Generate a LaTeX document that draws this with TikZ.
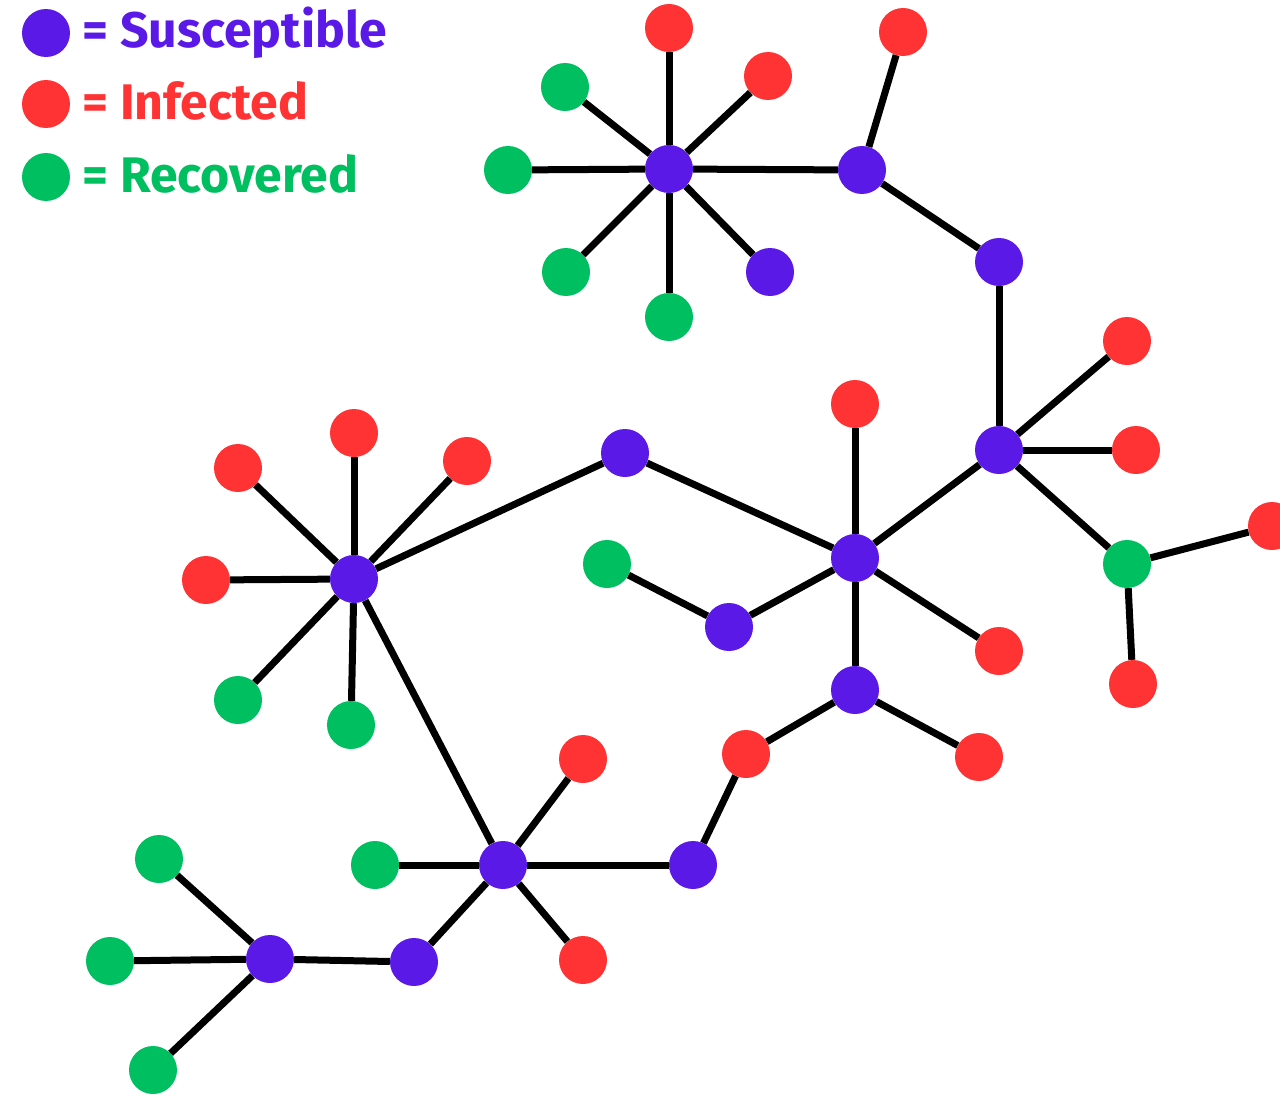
\documentclass[tikz,border=0pt]{standalone}
\usepackage{fontspec}
\setmainfont{Fira Sans}
\definecolor{sus}{HTML}{5B19E8}
\definecolor{inf}{HTML}{FF3333}
\definecolor{rec}{HTML}{00BF60}
\begin{document}
\begin{tikzpicture}[x=1pt,y=-1pt,
  dot/.style={circle,minimum size=48pt,inner sep=0pt,draw=none},
  S/.style={dot,fill=sus},
  I/.style={dot,fill=inf},
  R/.style={dot,fill=rec},
  link/.style={line width=7pt,black},
  lbl/.style={anchor=base west,inner sep=0pt,font=\fontsize{50}{50}\selectfont\bfseries}]
\useasboundingbox (0,0) rectangle (1280,1097);
% legend
\node[S] (ls) at (46,33) {};
\node[I] (li) at (46,104) {};
\node[R] (lr) at (46,177) {};
\node[lbl,text=sus] (ts) at (82,48) {= Susceptible};
\node[lbl,text=inf] (ti) at (82,120) {= Infected};
\node[lbl,text=rec] (tr) at (82,192) {= Recovered};
% top hub
\node[S] (A) at (669,169) {};
\node[I] (a1) at (669,28) {};
\node[I] (a2) at (768,76) {};
\node[R] (a3) at (565,87) {};
\node[R] (a4) at (508,170) {};
\node[R] (a5) at (566,272) {};
\node[R] (a6) at (669,317) {};
\node[S] (a7) at (770,272) {};
\node[S] (B) at (862,170) {};
\node[I] (b1) at (903,32) {};
\node[S] (C) at (999,262) {};
\node[S] (D) at (999,450) {};
\node[I] (d1) at (1127,341) {};
\node[I] (d2) at (1136,450) {};
\node[R] (E) at (1127,564) {};
\node[I] (e1) at (1272,526) {};
\node[I] (e2) at (1133,684) {};
\node[S] (F) at (855,558) {};
\node[I] (f1) at (855,404) {};
\node[S] (f2) at (625,453) {};
\node[S] (f3) at (729,627) {};
\node[I] (f4) at (999,651) {};
\node[S] (G) at (855,690) {};
\node[R] (g3) at (607,564) {};
\node[I] (g1) at (979,757) {};
\node[I] (g2) at (746,754) {};
\node[S] (P) at (693,865) {};
\node[S] (H) at (354,579) {};
\node[I] (h1) at (354,433) {};
\node[I] (h2) at (238,468) {};
\node[I] (h3) at (467,461) {};
\node[I] (h4) at (206,580) {};
\node[R] (h5) at (238,700) {};
\node[R] (h6) at (351,725) {};
\node[S] (J) at (503,865) {};
\node[I] (j1) at (583,759) {};
\node[R] (j2) at (375,865) {};
\node[I] (j3) at (583,960) {};
\node[S] (K) at (414,962) {};
\node[S] (L) at (270,959) {};
\node[R] (l1) at (159,859) {};
\node[R] (l2) at (110,961) {};
\node[R] (l3) at (153,1070) {};
% edges
\foreach \u/\v in {A/a1,A/a2,A/a3,A/a4,A/a5,A/a6,A/a7,A/B,B/b1,B/C,C/D,D/d1,D/d2,D/E,E/e1,E/e2,
  D/F,F/f1,F/f2,F/f3,F/f4,F/G,f3/g3,G/g1,G/g2,g2/P,P/J,f2/H,
  H/h1,H/h2,H/h3,H/h4,H/h5,H/h6,H/J,J/j1,J/j2,J/j3,J/K,K/L,L/l1,L/l2,L/l3}
  \draw[link] (\u) -- (\v);
\end{tikzpicture}
\end{document}
